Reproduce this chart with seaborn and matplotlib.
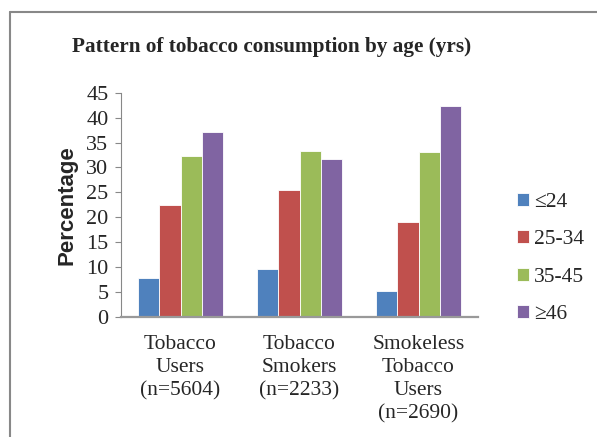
import pandas as pd
import matplotlib.pyplot as plt
import seaborn as sns
from matplotlib.lines import Line2D

# valeurs
categorias = ["Tobacco\nUsers\n(n=5604)", "Tobacco\nSmokers\n(n=2233)", "Smokeless\nTobacco\nUsers\n(n=2690)"]
faixas = ["≤24", "25-34", "35-45", "≥46"]
ate_24 = [7.9, 9.6, 5.2]
de_25_34 = [22.4, 25.4, 19.1]
de_35_45 = [32.3, 33.3, 33.2]
acima_46 = [37.2, 31.7, 42.4]
cores = ["#4F81BD", "#C0504D", "#9BBB59", "#8064A2"]

df = pd.DataFrame({"Grupo": categorias * 4,
                   "Idade": [f for f in faixas for _ in categorias],
                   "Percentagem": ate_24 + de_25_34 + de_35_45 + acima_46})

sns.set_style("white")
plt.rcParams['font.family'] = ['Liberation Serif', 'DejaVu Serif']

fig = plt.figure(figsize=(5.97, 4.37), dpi=100)
ax = fig.add_axes([0.2027, 0.2746, 0.598, 0.5133])
sns.barplot(data=df, x="Grupo", y="Percentagem", hue="Idade", palette=cores,
            width=0.715, saturation=1, ax=ax, edgecolor="white", linewidth=0.6)

ax.set_ylim(0, 45)
ax.set_xlim(-0.5, 2.5)
ax.set_yticks(range(0, 46, 5))
ax.tick_params(axis="y", labelsize=16, length=4, width=0.8, color="#888888", direction="out", left=True, pad=5)
ax.tick_params(axis="x", labelsize=15.5, length=0, pad=13)
for lbl in ax.get_xticklabels():
    lbl.set_linespacing(1.3)
ax.set_xlabel("")
ax.set_ylabel("Percentage", fontsize=16, fontweight="bold", family="Liberation Sans", labelpad=6)
for s in ["top", "right"]:
    ax.spines[s].set_visible(False)
ax.spines["left"].set_color("#888888")
ax.spines["bottom"].set_color("#999999")
ax.spines["bottom"].set_linewidth(1.6)

fig.text(0.455, 0.892, "Pattern of tobacco consumption by age (yrs)", ha="center", va="center",
         fontsize=15.3, fontweight="bold")

leg = ax.legend(loc="upper left", bbox_to_anchor=(1.055, 0.64), frameon=False, fontsize=15.5,
                handlelength=0.55, handleheight=0.55, handletextpad=0.25, labelspacing=0.85)

# moldura
fig.add_artist(Line2D([10 / 597, 10 / 597], [0, 1 - 12 / 437], color="#888888", lw=1.5))
fig.add_artist(Line2D([10 / 597, 1], [1 - 12 / 437, 1 - 12 / 437], color="#888888", lw=1.5))

plt.savefig("out.png", dpi=100)
